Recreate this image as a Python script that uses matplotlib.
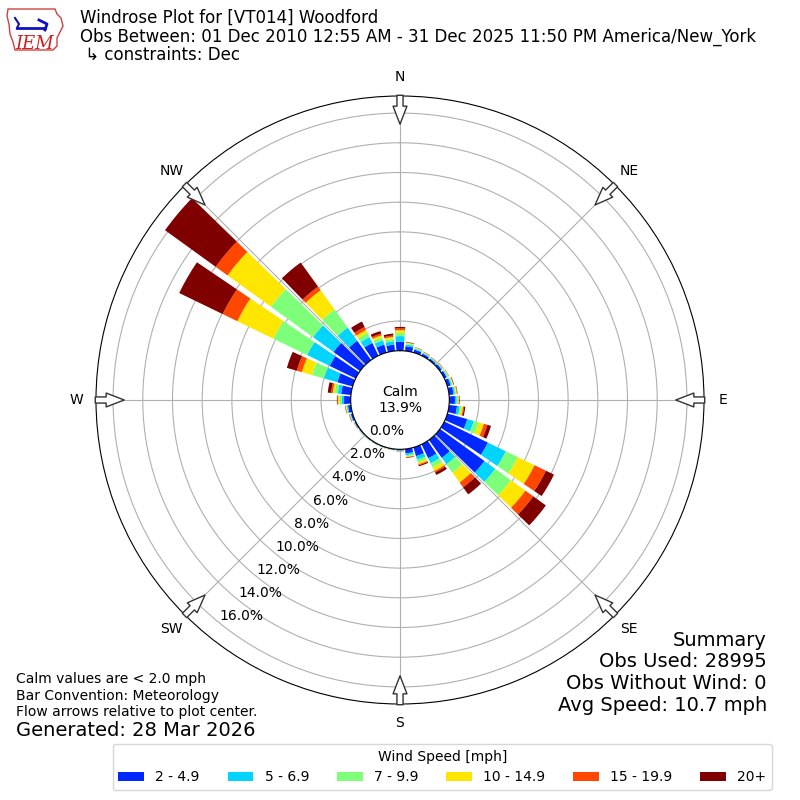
import numpy as np
import matplotlib
matplotlib.use('Agg')
import matplotlib.pyplot as plt
from matplotlib.patches import Polygon

# direction bins (deg, meteorological) and speed bins
directions = np.arange(0, 360, 10)
speed_labels = ['2 - 4.9', '5 - 6.9', '7 - 9.9', '10 - 14.9', '15 - 19.9', '20+']
colors = ['#0028ff', '#00d4ff', '#7dff7a', '#ffe600', '#ff4700', '#800000']

# percent of obs per direction for each speed bin
s_2_5 = [0.60, 0.32, 0.20, 0.15, 0.12, 0.15, 0.17, 0.22, 0.30, 0.38, 0.54, 1.39,
         3.26, 3.70, 1.49, 1.04, 0.61, 0.30, 0.08, 0.05, 0.05, 0.05, 0.05, 0.06,
         0.08, 0.12, 0.20, 0.45, 0.66, 1.07, 1.94, 2.20, 1.60, 0.95, 0.55, 0.43]
s_5_7 = [0.38, 0.12, 0.07, 0.05, 0.05, 0.05, 0.06, 0.08, 0.10, 0.12, 0.18, 0.46,
         1.34, 0.90, 0.52, 0.38, 0.25, 0.12, 0.03, 0.02, 0.02, 0.02, 0.02, 0.02,
         0.02, 0.04, 0.07, 0.15, 0.23, 0.93, 1.69, 1.70, 1.10, 0.44, 0.30, 0.23]
s_7_10 = [0.22, 0.08, 0.05, 0.04, 0.03, 0.04, 0.05, 0.07, 0.07, 0.08, 0.11, 0.35,
          0.90, 1.30, 0.72, 0.31, 0.19, 0.08, 0.02, 0.01, 0.01, 0.01, 0.01, 0.02,
          0.02, 0.03, 0.05, 0.15, 0.22, 0.84, 2.53, 3.50, 1.50, 0.31, 0.20, 0.16]
s_10_15 = [0.18, 0.04, 0.03, 0.03, 0.02, 0.03, 0.04, 0.05, 0.06, 0.06, 0.12, 0.35,
           1.25, 1.20, 0.80, 0.27, 0.13, 0.05, 0.01, 0.01, 0.01, 0.01, 0.01, 0.01,
           0.01, 0.02, 0.04, 0.10, 0.12, 0.71, 2.69, 3.60, 1.60, 0.22, 0.15, 0.13]
s_15_20 = [0.12, 0.02, 0.02, 0.01, 0.01, 0.01, 0.02, 0.02, 0.03, 0.03, 0.07, 0.25,
           0.85, 0.65, 0.40, 0.10, 0.07, 0.03, 0.01, 0.01, 0.01, 0.01, 0.01, 0.01,
           0.01, 0.02, 0.02, 0.05, 0.11, 0.35, 1.10, 1.00, 0.30, 0.22, 0.12, 0.10]
s_20p = [0.10, 0.03, 0.01, 0.02, 0.02, 0.02, 0.01, 0.03, 0.02, 0.03, 0.08, 0.25,
         0.60, 1.05, 0.59, 0.19, 0.07, 0.03, 0.01, 0.00, 0.00, 0.00, 0.00, 0.00,
         0.01, 0.02, 0.02, 0.03, 0.23, 0.70, 3.25, 4.20, 2.00, 0.41, 0.18, 0.13]
speeds = [s_2_5, s_5_7, s_7_10, s_10_15, s_15_20, s_20p]

calm = 13.9
rticks = np.arange(0, 17, 2)
compass = ['N', 'NE', 'E', 'SE', 'S', 'SW', 'W', 'NW']

fig = plt.figure(figsize=(8, 8), dpi=100)
ax = fig.add_axes([0.12, 0.12, 0.76, 0.76], projection='polar')
ax.set_theta_zero_location('N')
ax.set_theta_direction(-1)

theta = np.deg2rad(directions)
width = np.deg2rad(10) * 0.83
bottom = np.zeros(len(directions))
handles = []
for vals, c in zip(speeds, colors):
    vals = np.array(vals)
    b = ax.bar(theta, vals, width=width, bottom=bottom, color=c, edgecolor='none', zorder=2)
    handles.append(b)
    bottom += vals

ax.set_ylim(0, 17.15)
ax.set_rorigin(-3.32)
ax.set_yticks(rticks)
ax.set_yticklabels(['%.1f%%' % t for t in rticks], fontsize=10)
ax.set_rlabel_position(219)
ax.set_xticks(np.deg2rad(np.arange(0, 360, 45)))
ax.set_xticklabels(compass, fontsize=10)
ax.tick_params(axis='x', pad=3.5)
ax.grid(True, color='#b0b0b0', lw=0.8)
ax.set_axisbelow(True)

# flow arrows at the edge
for d in np.arange(0, 360, 45):
    ax.annotate('', xy=(np.deg2rad(d), 15.25), xytext=(np.deg2rad(d), 17.2),
                arrowprops=dict(arrowstyle='simple,head_length=0.65,head_width=0.5,tail_width=0.22',
                                mutation_scale=20, fc='white', ec='#333333', lw=1,
                                shrinkA=0, shrinkB=0),
                zorder=5, annotation_clip=False)

fig.text(0.5, 0.5, 'Calm\n%.1f%%' % calm, ha='center', va='center', fontsize=10)

# header
fig.text(0.1, 1 - 18 / 800, 'Windrose Plot for [VT014] Woodford', fontsize=12, va='center')
fig.text(0.1, 1 - 37 / 800,
         'Obs Between: 01 Dec 2010 12:55 AM - 31 Dec 2025 11:50 PM America/New_York',
         fontsize=12, va='center')
fig.text(0.1, 1 - 55 / 800, ' \u21b3 constraints: Dec', fontsize=12, va='center')

# rough IEM logo
lax = fig.add_axes([5 / 800, 1 - 52 / 800, 62 / 800, 46 / 800])
lax.set_xlim(0, 62)
lax.set_ylim(46, 0)
lax.axis('off')
iowa = [(3, 3), (50, 3), (52, 8), (56, 12), (58, 20), (55, 26), (52, 32), (52, 40),
        (48, 44), (10, 44), (8, 36), (5, 28), (4, 18), (2, 10)]
lax.add_patch(Polygon(iowa, closed=True, fill=False, ec='#d04040', lw=1))
lax.plot([12, 40], [22, 22], color='#1010c0', lw=2)
lax.plot([10, 14, 12], [12, 18, 22], color='#1010c0', lw=1.5)
lax.plot([34, 42, 40], [14, 18, 24], color='#1010c0', lw=2)
lax.text(30, 38, 'IEM', color='#d02020', fontsize=13, ha='center', va='center',
         family='DejaVu Serif', style='italic')

# footer notes
fig.text(16 / 800, 1 - 679 / 800, 'Calm values are < 2.0 mph', fontsize=10, va='center')
fig.text(16 / 800, 1 - 696 / 800, 'Bar Convention: Meteorology', fontsize=10, va='center')
fig.text(16 / 800, 1 - 712 / 800, 'Flow arrows relative to plot center.', fontsize=10, va='center')
fig.text(16 / 800, 1 - 730 / 800, 'Generated: 28 Mar 2026', fontsize=14, va='center')

summary = ['Summary', 'Obs Used: 28995', 'Obs Without Wind: 0', 'Avg Speed: 10.7 mph']
for i, s in enumerate(summary):
    fig.text(767 / 800, 1 - (640 + 21.7 * i) / 800, s, fontsize=14, ha='right', va='center')

fig.legend([h[0] for h in handles], speed_labels, loc='lower center',
           bbox_to_anchor=(0.553, 10 / 800), borderaxespad=0, ncol=6, fontsize=10,
           handlelength=1.87, title='Wind Speed [mph]', title_fontsize=10)

fig.savefig('out.png', dpi=100)
